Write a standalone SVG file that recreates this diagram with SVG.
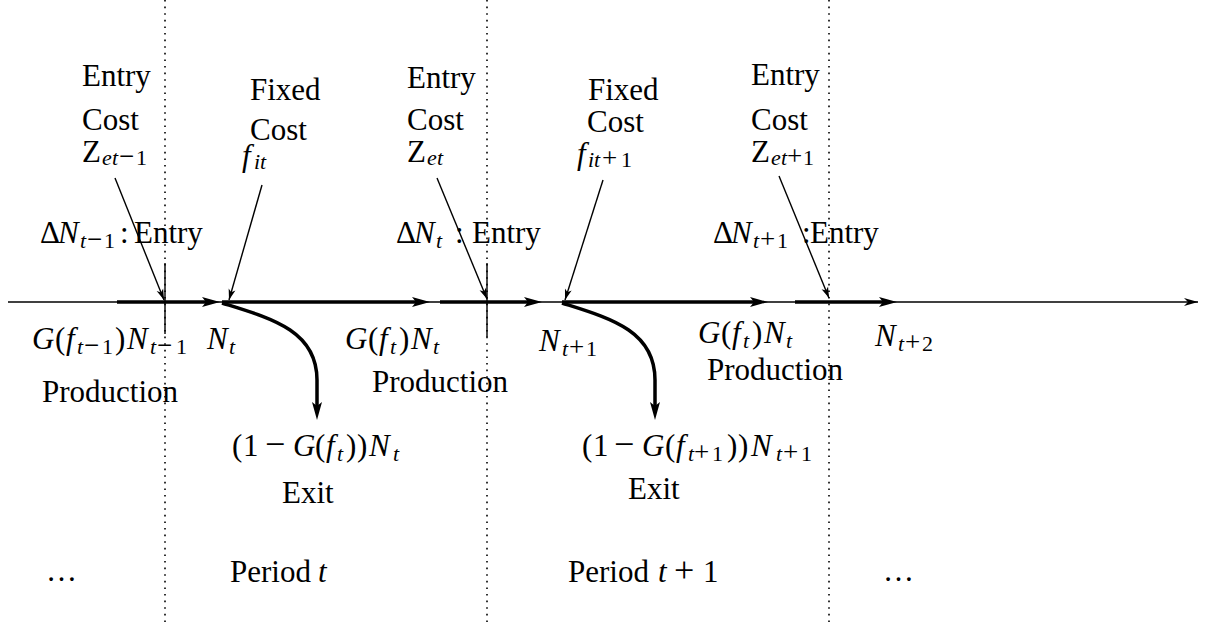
<svg xmlns="http://www.w3.org/2000/svg" width="1218" height="624" viewBox="0 0 1218 624">
<style>
.t{font-family:"Liberation Serif","Times New Roman",serif;font-size:31px;fill:#000}
.i{font-style:italic}
.s{font-size:22px}
.so{font-size:27px}
.op{font-size:36px}
.thin{stroke:#000;stroke-width:1.4;fill:none}
.thick{stroke:#000;stroke-width:3.5;fill:none}
.dot{stroke:#000;stroke-width:1.6;stroke-dasharray:1.6 5;fill:none}
</style>
<defs>
<marker id="ah" markerUnits="userSpaceOnUse" viewBox="-10 -6 22 12" refX="0" refY="0" markerWidth="22" markerHeight="12" orient="auto"><path d="M10,0 L-8,-5 L-4,0 L-8,5 Z" fill="#000"/></marker>
<marker id="at" markerUnits="userSpaceOnUse" viewBox="-12 -4 13 8" refX="0" refY="0" markerWidth="13" markerHeight="8" orient="auto"><path d="M0,0 L-11,-3.5 L-8,0 L-11,3.5 Z" fill="#000"/></marker>
<marker id="ax" markerUnits="userSpaceOnUse" viewBox="-15 -5 16 10" refX="0" refY="0" markerWidth="16" markerHeight="10" orient="auto"><path d="M0,0 L-14,-4 L-10,0 L-14,4 Z" fill="#000"/></marker>
</defs>

<g id="period-dividers">
<line class="dot" x1="165" y1="0" x2="165" y2="624"/>
<line class="dot" x1="487" y1="0" x2="487" y2="624"/>
<line class="dot" x1="829" y1="0" x2="829" y2="624"/>
<line class="thin" x1="165" y1="263" x2="165" y2="334"/>
<line class="thin" x1="487" y1="263" x2="487" y2="337"/>
</g>

<g id="connectors">
<line class="thin" x1="8" y1="302" x2="1198" y2="302" marker-end="url(#ax)"/>
<line class="thick" x1="117" y1="302" x2="210" y2="302" marker-end="url(#ah)"/>
<line class="thick" x1="222" y1="302" x2="420" y2="302" marker-end="url(#ah)"/>
<line class="thick" x1="440" y1="302" x2="532" y2="302" marker-end="url(#ah)"/>
<line class="thick" x1="562" y1="302" x2="758" y2="302" marker-end="url(#ah)"/>
<line class="thick" x1="795" y1="302" x2="887" y2="302" marker-end="url(#ah)"/>
<path class="thick" d="M222,303 C270,318 317,330 317,380 L317,410" marker-end="url(#ah)"/>
<path class="thick" d="M562,303 C609,318 655,330 655,380 L655,410" marker-end="url(#ah)"/>
<line class="thin" x1="115" y1="178" x2="164" y2="300" marker-end="url(#at)"/>
<line class="thin" x1="262" y1="185" x2="229" y2="300" marker-end="url(#at)"/>
<line class="thin" x1="437" y1="178" x2="487" y2="299" marker-end="url(#at)"/>
<line class="thin" x1="603" y1="180" x2="565" y2="300" marker-end="url(#at)"/>
<line class="thin" x1="779" y1="176" x2="829" y2="298" marker-end="url(#at)"/>
</g>

<g id="entry-cost-1">
<text class="t" x="82" y="86">Entry</text>
<text class="t" x="82" y="130">Cost</text>
<text class="t" x="82" y="162">Z<tspan class="s i" x="102" dy="3">e</tspan><tspan class="s i" x="112">t</tspan><tspan class="so" x="119">−</tspan><tspan class="s" x="136">1</tspan></text>
</g>
<g id="fixed-cost-1">
<text class="t" x="250" y="100">Fixed</text>
<text class="t" x="250" y="140">Cost</text>
<text class="t" x="242" y="166"><tspan class="i">f</tspan><tspan class="s i" x="254" dy="3">i</tspan><tspan class="s i" x="260">t</tspan></text>
</g>
<g id="entry-cost-2">
<text class="t" x="407" y="88">Entry</text>
<text class="t" x="407" y="130">Cost</text>
<text class="t" x="407" y="162">Z<tspan class="s i" x="427" dy="3">e</tspan><tspan class="s i" x="437">t</tspan></text>
</g>
<g id="fixed-cost-2">
<text class="t" x="588" y="100">Fixed</text>
<text class="t" x="587" y="132">Cost</text>
<text class="t" x="577" y="164"><tspan class="i">f</tspan><tspan class="s i" x="588" dy="3">i</tspan><tspan class="s i" x="594">t</tspan><tspan class="so" x="602">+</tspan><tspan class="s" x="621">1</tspan></text>
</g>
<g id="entry-cost-3">
<text class="t" x="751" y="85">Entry</text>
<text class="t" x="751" y="130">Cost</text>
<text class="t" x="751" y="162">Z<tspan class="s i" x="771" dy="3">e</tspan><tspan class="s i" x="781">t</tspan><tspan class="so" x="787">+</tspan><tspan class="s" x="803">1</tspan></text>
</g>

<g id="entry-1">
<text class="t" x="40" y="243">Δ<tspan class="i" x="58">N</tspan><tspan class="s i" x="80" dy="5">t</tspan><tspan class="so" x="87">−</tspan><tspan class="s" x="104">1</tspan><tspan x="120" dy="-5">:</tspan><tspan x="134">Entry</tspan></text>
</g>
<g id="entry-2">
<text class="t" x="396" y="243">Δ<tspan class="i" x="414">N</tspan><tspan class="s i" x="436" dy="5">t</tspan><tspan x="455" dy="-5">:</tspan><tspan x="472">Entry</tspan></text>
</g>
<g id="entry-3">
<text class="t" x="713" y="243">Δ<tspan class="i" x="731">N</tspan><tspan class="s i" x="753" dy="5">t</tspan><tspan class="so" x="760">+</tspan><tspan class="s" x="777">1</tspan><tspan x="802" dy="-5">:</tspan><tspan x="810">Entry</tspan></text>
</g>

<g id="production-1">
<text class="t" x="32" y="349"><tspan class="i">G</tspan><tspan x="55">(</tspan><tspan class="i" x="66">f</tspan><tspan class="s i" x="77" dy="5">t</tspan><tspan class="so" x="84">−</tspan><tspan class="s" x="102">1</tspan><tspan x="115" dy="-5">)</tspan><tspan class="i" x="127">N</tspan><tspan class="s i" x="150" dy="5">t</tspan><tspan class="so" x="157">−</tspan><tspan class="s" x="176">1</tspan></text>
<text class="t" x="42" y="402">Production</text>
</g>
<g id="stock-t">
<text class="t" x="207" y="349"><tspan class="i">N</tspan><tspan class="s i" x="229" dy="5">t</tspan></text>
</g>
<g id="production-2">
<text class="t" x="345" y="349"><tspan class="i">G</tspan><tspan x="368">(</tspan><tspan class="i" x="379">f</tspan><tspan class="s i" x="390" dy="5">t</tspan><tspan x="399" dy="-5">)</tspan><tspan class="i" x="411">N</tspan><tspan class="s i" x="433" dy="5">t</tspan></text>
<text class="t" x="372" y="392">Production</text>
</g>
<g id="stock-t1">
<text class="t" x="539" y="351"><tspan class="i">N</tspan><tspan class="s i" x="562" dy="5">t</tspan><tspan class="so" x="569">+</tspan><tspan class="s" x="586">1</tspan></text>
</g>
<g id="production-3">
<text class="t" x="698" y="343"><tspan class="i">G</tspan><tspan x="721">(</tspan><tspan class="i" x="732">f</tspan><tspan class="s i" x="743" dy="5">t</tspan><tspan x="752" dy="-5">)</tspan><tspan class="i" x="764">N</tspan><tspan class="s i" x="786" dy="5">t</tspan></text>
<text class="t" x="707" y="380">Production</text>
</g>
<g id="stock-t2">
<text class="t" x="875" y="346"><tspan class="i">N</tspan><tspan class="s i" x="898" dy="5">t</tspan><tspan class="so" x="905">+</tspan><tspan class="s" x="922">2</tspan></text>
</g>

<g id="exit-1">
<text class="t" x="232" y="456">(<tspan x="243">1</tspan><tspan class="op" x="265">−</tspan><tspan class="i" x="293">G</tspan><tspan x="315">(</tspan><tspan class="i" x="326">f</tspan><tspan class="s i" x="337" dy="5">t</tspan><tspan x="346" dy="-5">)</tspan><tspan x="357">)</tspan><tspan class="i" x="369">N</tspan><tspan class="s i" x="393" dy="5">t</tspan></text>
<text class="t" x="282" y="503">Exit</text>
</g>
<g id="exit-2">
<text class="t" x="582" y="456">(<tspan x="593">1</tspan><tspan class="op" x="614">−</tspan><tspan class="i" x="642">G</tspan><tspan x="665">(</tspan><tspan class="i" x="676">f</tspan><tspan class="s i" x="688" dy="5">t</tspan><tspan class="so" x="694">+</tspan><tspan class="s" x="712">1</tspan><tspan x="727" dy="-5">)</tspan><tspan x="738">)</tspan><tspan class="i" x="751">N</tspan><tspan class="s i" x="776" dy="5">t</tspan><tspan class="so" x="783">+</tspan><tspan class="s" x="801">1</tspan></text>
<text class="t" x="628" y="499">Exit</text>
</g>

<g id="periods">
<text class="t" x="46" y="581">…</text>
<text class="t" x="230" y="582">Period</text>
<text class="t i" x="318" y="582">t</text>
<text class="t" x="568" y="582">Period</text>
<text class="t" x="658" y="582"><tspan class="i">t</tspan><tspan class="op" x="674">+</tspan><tspan x="703">1</tspan></text>
<text class="t" x="883" y="581">…</text>
</g>
</svg>
